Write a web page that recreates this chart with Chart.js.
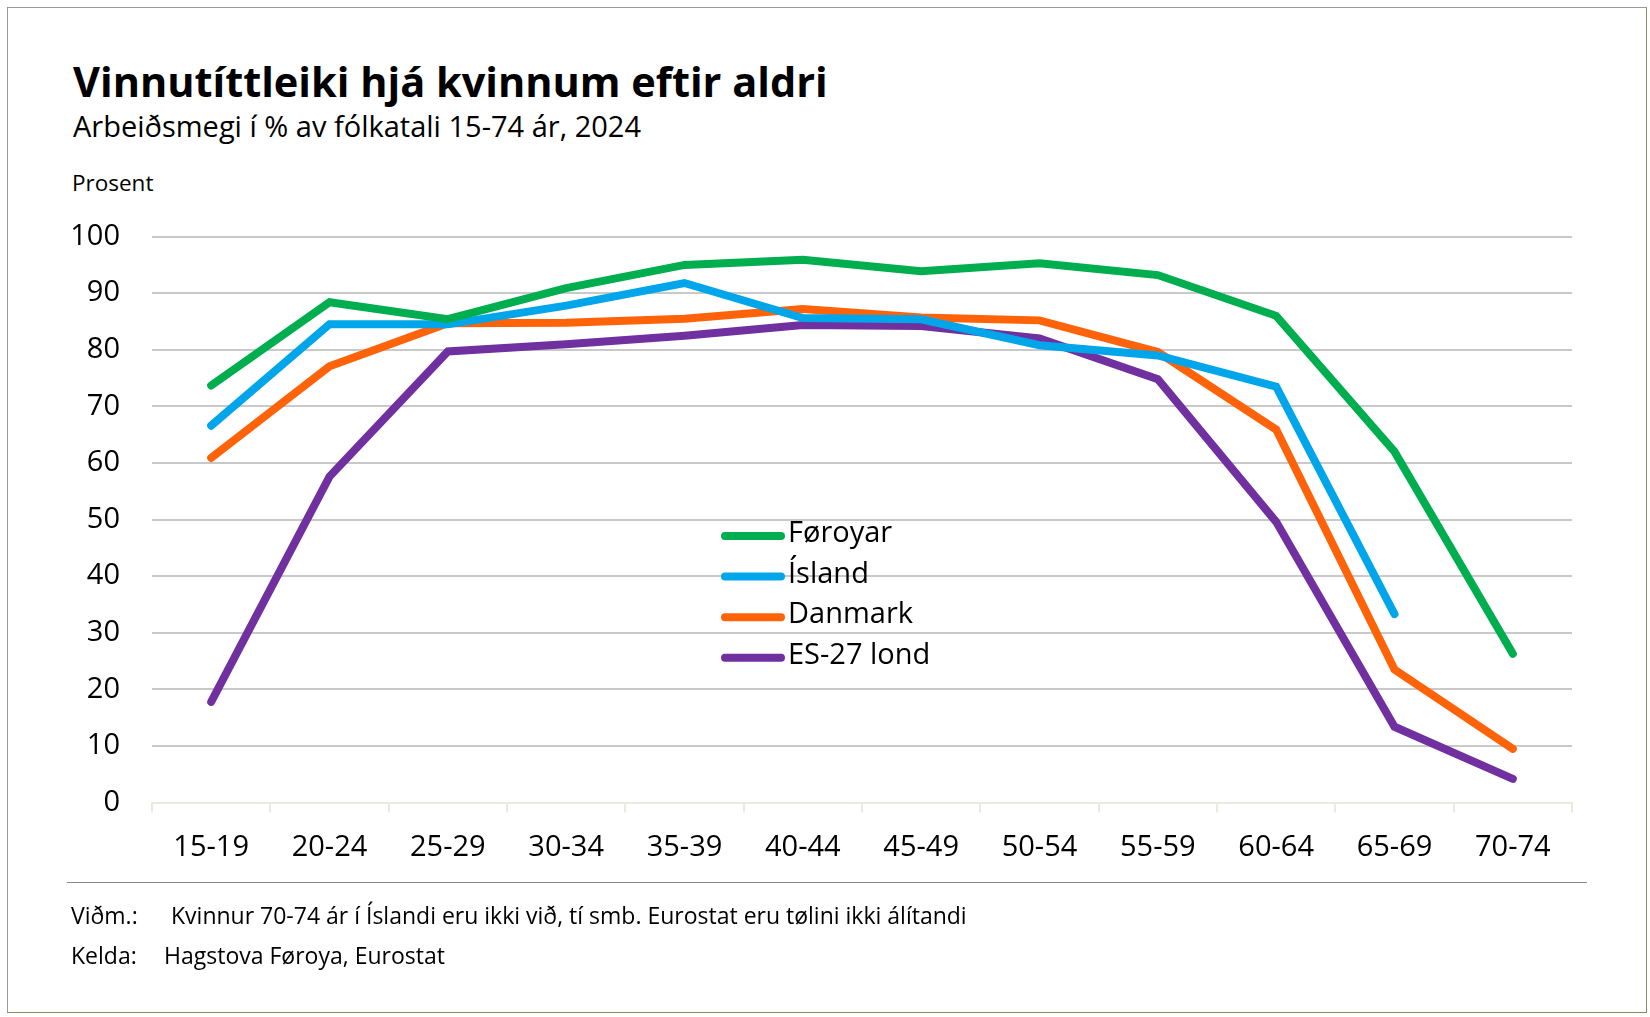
<!DOCTYPE html>
<html>
<head>
<meta charset="utf-8">
<script src="https://cdn.jsdelivr.net/npm/chart.js@4"></script>
<style>
  html, body { margin: 0; padding: 0; background: #fff; }
  body { width: 1650px; height: 1017px; position: relative; overflow: hidden; font-family: "Open Sans", sans-serif; color: #000; }
  .frame { position: absolute; left: 7px; top: 7px; width: 1638px; height: 1004px; border: 1px solid #999; border-right-color: #8e8b62; border-bottom-color: #8e8b62; }
  .txt { position: absolute; white-space: nowrap; line-height: 1; }
  #title { left: 73px; top: 61px; font-size: 41.5px; font-weight: 700; }
  #subtitle { left: 73px; top: 111px; font-size: 29px; }
  #unit { left: 72px; top: 172px; font-size: 22.5px; }
  #sep { position: absolute; left: 67px; top: 882px; width: 1520px; height: 0; border-top: 1.5px solid #888; }
  .note { font-size: 23px; }
  #chart { position: absolute; left: 0; top: 0; }
</style>
</head>
<body>
<div class="frame"></div>
<div class="txt" id="title">Vinnutíttleiki hjá kvinnum eftir aldri</div>
<div class="txt" id="subtitle">Arbeiðsmegi í % av fólkatali 15-74 ár, 2024</div>
<div class="txt" id="unit">Prosent</div>
<canvas id="chart" width="1650" height="1017"></canvas>
<div id="sep"></div>
<div class="txt note" style="left:71px; top:904px;">Viðm.:</div>
<div class="txt note" style="left:171px; top:904px;">Kvinnur 70-74 ár í Íslandi eru ikki við, tí smb. Eurostat eru tølini ikki álítandi</div>
<div class="txt note" style="left:71px; top:944px;">Kelda:</div>
<div class="txt note" style="left:164px; top:944px;">Hagstova Føroya, Eurostat</div>

<script>
  // age groups
  const ageGroups = ['15-19', '20-24', '25-29', '30-34', '35-39', '40-44',
                     '45-49', '50-54', '55-59', '60-64', '65-69', '70-74'];
  const yTicks = [0, 10, 20, 30, 40, 50, 60, 70, 80, 90, 100];

  const seriesNames = ['Føroyar', 'Ísland', 'Danmark', 'ES-27 lond'];
  const foroyar  = [73.7, 88.4, 85.4, 90.9, 95.0, 95.9, 93.9, 95.3, 93.2, 86.0, 62.0, 26.3];
  const island   = [66.6, 84.5, 84.5, 87.8, 91.8, 85.6, 85.4, 80.8, 79.0, 73.5, 33.3, null];
  const danmark  = [60.9, 77.1, 84.7, 84.8, 85.5, 87.2, 85.7, 85.2, 79.6, 65.9, 23.5, 9.5];
  const es27     = [17.8, 57.6, 79.7, 81.0, 82.5, 84.4, 84.2, 82.0, 74.8, 49.6, 13.4, 4.2];

  const colors = ['#00ae4f', '#00a6e9', '#ff6309', '#7030a0'];
  const font = '"Open Sans", sans-serif';

  // legend drawn inside the plot, like the original
  const innerLegend = {
    id: 'innerLegend',
    afterDatasetsDraw(chart) {
      const ctx = chart.ctx;
      const x0 = 725, x1 = 781, tx = 788, y0 = 536, step = 40.6;
      ctx.save();
      ctx.font = '29px ' + font;
      ctx.textBaseline = 'middle';
      ctx.fillStyle = '#000';
      ctx.lineCap = 'round';
      ctx.lineWidth = 8;
      chart.data.datasets.forEach((ds, i) => {
        const y = y0 + i * step;
        ctx.strokeStyle = ds.borderColor;
        ctx.beginPath();
        ctx.moveTo(x0, y);
        ctx.lineTo(x1, y);
        ctx.stroke();
        ctx.fillText(ds.label, tx, y - 2);
      });
      ctx.restore();
    }
  };

  const datasets = [foroyar, island, danmark, es27].map((vals, i) => ({
    label: seriesNames[i],
    data: vals,
    borderColor: colors[i],
    backgroundColor: colors[i],
    borderWidth: 8,
    borderCapStyle: 'round',
    borderJoinStyle: 'miter',
    pointRadius: 0,
    pointHoverRadius: 0,
    tension: 0,
    spanGaps: false,
    fill: false
  }));

  new Chart(document.getElementById('chart'), {
    type: 'line',
    data: { labels: ageGroups, datasets: datasets },
    options: {
      responsive: false,
      animation: false,
      events: [],
      layout: { padding: { left: 0, right: 78, top: 236.6, bottom: 154.4 } },
      plugins: {
        legend: { display: false },
        tooltip: { enabled: false },
        title: { display: false }
      },
      scales: {
        x: {
          offset: true,
          afterFit: (scale) => { scale.height = 60; },
          border: { display: true, color: '#ece9df', width: 2 },
          grid: {
            offset: true,
            drawOnChartArea: false,
            drawTicks: true,
            tickLength: 10,
            color: '#ece9df',
            lineWidth: 2
          },
          ticks: {
            color: '#000',
            font: { family: font, size: 29 },
            padding: 18,
            maxRotation: 0,
            autoSkip: false
          }
        },
        y: {
          min: 0,
          max: 100,
          afterFit: (scale) => { scale.width = 152; },
          afterBuildTicks: (scale) => { scale.ticks = yTicks.map(v => ({ value: v })); },
          border: { display: false },
          grid: {
            drawTicks: false,
            lineWidth: 2,
            color: (c) => c.tick && c.tick.value === 0 ? '#ece9df' : '#c9c9c9'
          },
          ticks: {
            color: '#000',
            font: { family: font, size: 29 },
            padding: 32
          }
        }
      }
    },
    plugins: [innerLegend]
  });
</script>
</body>
</html>
